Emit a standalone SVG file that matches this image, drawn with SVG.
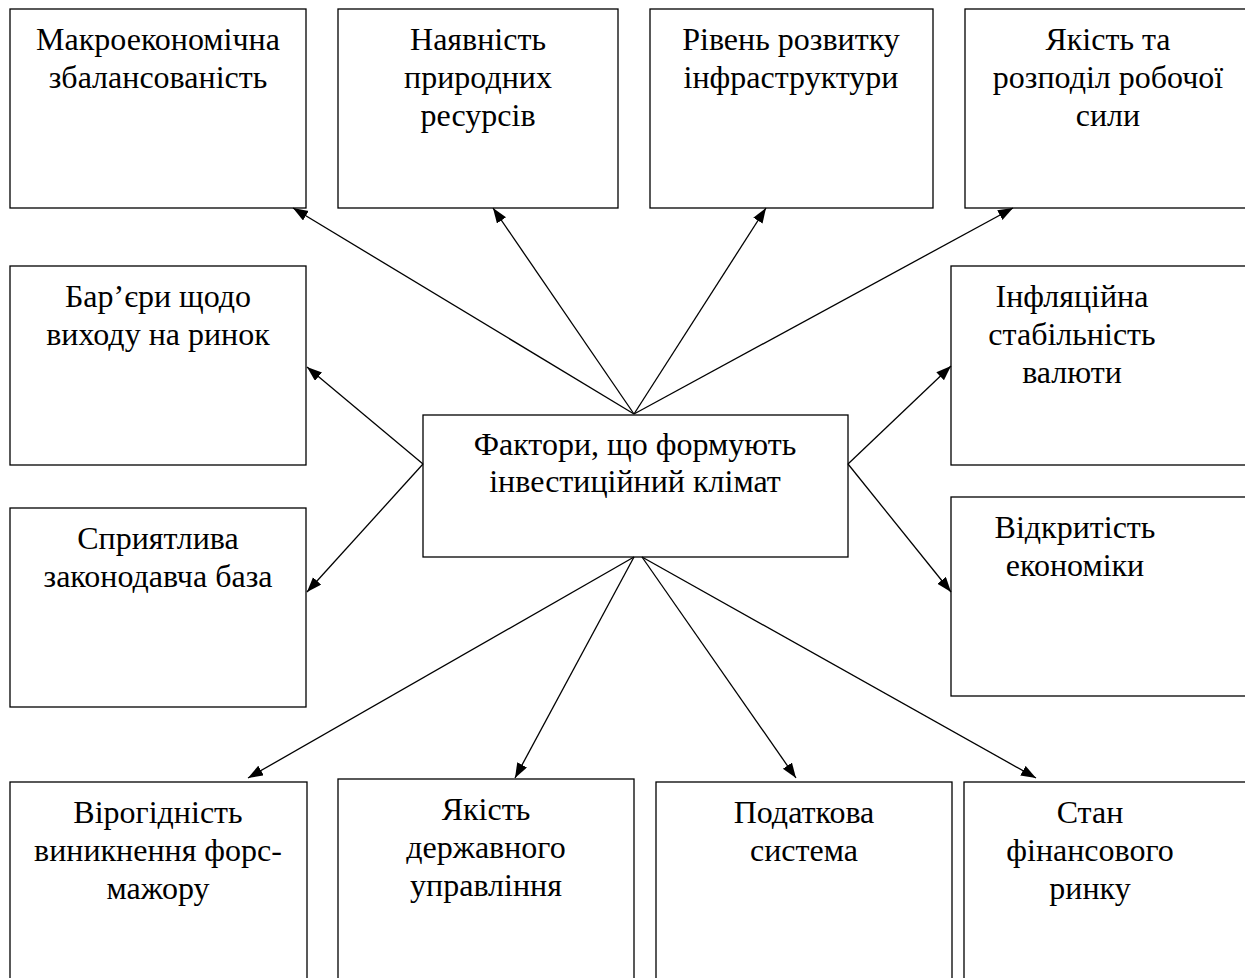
<svg xmlns="http://www.w3.org/2000/svg" width="1245" height="978" viewBox="0 0 1245 978">
<style>
.box{fill:#fff;stroke:#000;stroke-width:1.3}
.t{font-family:"Liberation Serif","Times New Roman",serif;font-size:32px;fill:#000;text-anchor:middle}
.c line{stroke:#000;stroke-width:1.3;marker-end:url(#ah)}
</style>
<defs>
<marker id="ah" markerUnits="userSpaceOnUse" markerWidth="16" markerHeight="12" refX="15" refY="5.5" orient="auto">
<path d="M0,0 L15,5.5 L0,11 z" fill="#000"/>
</marker>
</defs>
<rect width="1245" height="978" fill="#fff"/>
<g id="n1"><rect class="box" x="10" y="9" width="296" height="199"/>
<text class="t" x="158" y="50">Макроекономічна</text><text class="t" x="158" y="88">збалансованість</text></g>
<g id="n2"><rect class="box" x="338" y="9" width="280" height="199"/>
<text class="t" x="478" y="50">Наявність</text><text class="t" x="478" y="88">природних</text><text class="t" x="478" y="126">ресурсів</text></g>
<g id="n3"><rect class="box" x="650" y="9" width="283" height="199"/>
<text class="t" x="791" y="50">Рівень розвитку</text><text class="t" x="791" y="88">інфраструктури</text></g>
<g id="n4"><rect class="box" x="965" y="9" width="290" height="199"/>
<text class="t" x="1108" y="50">Якість та</text><text class="t" x="1108" y="88">розподіл робочої</text><text class="t" x="1108" y="126">сили</text></g>
<g id="n5"><rect class="box" x="10" y="266" width="296" height="199"/>
<text class="t" x="158" y="307">Бар’єри щодо</text><text class="t" x="158" y="345">виходу на ринок</text></g>
<g id="n6"><rect class="box" x="10" y="508" width="296" height="199"/>
<text class="t" x="158" y="549">Сприятлива</text><text class="t" x="158" y="587">законодавча база</text></g>
<g id="n7"><rect class="box" x="951" y="266" width="300" height="199"/>
<text class="t" x="1072" y="307">Інфляційна</text><text class="t" x="1072" y="345">стабільність</text><text class="t" x="1072" y="383">валюти</text></g>
<g id="n8"><rect class="box" x="951" y="497" width="300" height="199"/>
<text class="t" x="1075" y="538">Відкритість</text><text class="t" x="1075" y="576">економіки</text></g>
<g id="n0"><rect class="box" x="423" y="415" width="425" height="142"/>
<text class="t" x="635" y="455">Фактори, що формують</text><text class="t" x="635" y="492">інвестиційний клімат</text></g>
<g id="n9"><rect class="box" x="10" y="782" width="297" height="220"/>
<text class="t" x="158" y="823">Вірогідність</text><text class="t" x="158" y="861">виникнення форс-</text><text class="t" x="158" y="899">мажору</text></g>
<g id="n10"><rect class="box" x="338" y="779" width="296" height="220"/>
<text class="t" x="486" y="820">Якість</text><text class="t" x="486" y="858">державного</text><text class="t" x="486" y="896">управління</text></g>
<g id="n11"><rect class="box" x="656" y="782" width="296" height="220"/>
<text class="t" x="804" y="823">Податкова</text><text class="t" x="804" y="861">система</text></g>
<g id="n12"><rect class="box" x="964" y="782" width="290" height="220"/>
<text class="t" x="1090" y="823">Стан</text><text class="t" x="1090" y="861">фінансового</text><text class="t" x="1090" y="899">ринку</text></g>
<g id="connectors" class="c">
<line x1="634" y1="414" x2="293" y2="208"/>
<line x1="634" y1="414" x2="493" y2="208"/>
<line x1="634" y1="414" x2="766" y2="208"/>
<line x1="634" y1="414" x2="1013" y2="208"/>
<line x1="423" y1="464" x2="307" y2="367"/>
<line x1="423" y1="464" x2="307" y2="592"/>
<line x1="848" y1="464" x2="951" y2="366"/>
<line x1="848" y1="464" x2="951" y2="592"/>
<line x1="634" y1="557" x2="248" y2="778"/>
<line x1="634" y1="557" x2="515" y2="778"/>
<line x1="642" y1="557" x2="796" y2="778"/>
<line x1="642" y1="557" x2="1036" y2="778"/>
</g>
</svg>
